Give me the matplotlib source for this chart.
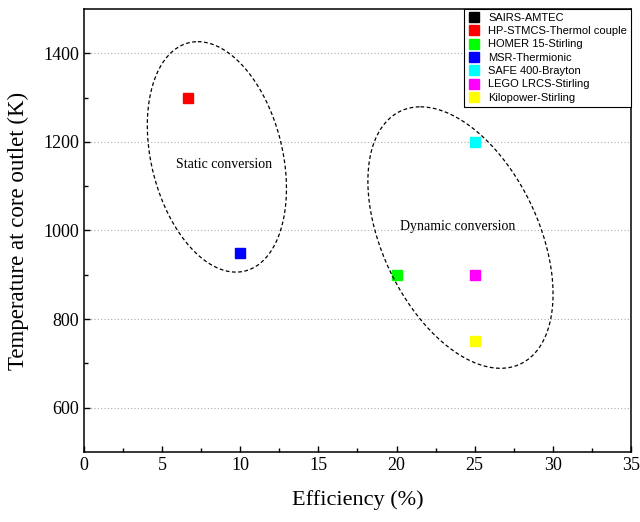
import numpy as np
import matplotlib.pyplot as plt

# Дані: ККД (%) та температура на виході з активної зони (K)
systems = ['SAIRS-AMTEC', 'HP-STMCS-Thermol couple', 'HOMER 15-Stirling',
           'MSR-Thermionic', 'SAFE 400-Brayton', 'LEGO LRCS-Stirling',
           'Kilopower-Stirling']
efficiency = [np.nan, 6.65, 20, 10, 25, 25, 25]
temperature = [np.nan, 1300, 900, 950, 1200, 900, 750]
colors = ['#000000', '#ff0000', '#00ff00', '#0000ff', '#00ffff', '#ff00ff', '#ffff00']

# Еліпси-групи: центр, спряжений вектор (вгору) та горизонтальна піввісь
static_center = (8.51, 1166)
static_u = (-1.22, 260)
static_v = 4.28
dynamic_center = (24.09, 984)
dynamic_u = (-2.56, 295)
dynamic_v = 5.34

serif = 'Liberation Serif'
sans = 'Liberation Sans'

fig = plt.figure(figsize=(6.4, 5.22), dpi=100)
ax = fig.add_axes([0.131, 0.134, 0.855, 0.849])

for name, x, y, c in zip(systems, efficiency, temperature, colors):
    ax.plot([x], [y], 's', color=c, markersize=7, linestyle='none', label=name)


def draw_ellipse(center, u, v):
    t = np.linspace(0, 2 * np.pi, 300)
    xs = center[0] + u[0] * np.cos(t) + v * np.sin(t)
    ys = center[1] + u[1] * np.cos(t)
    ax.plot(xs, ys, '--', color='black', linewidth=0.9, dashes=(3, 2))


draw_ellipse(static_center, static_u, static_v)
draw_ellipse(dynamic_center, dynamic_u, dynamic_v)

ax.text(9.0, 1148, 'Static conversion', family=serif, fontsize=10,
        ha='center', va='center')
ax.text(23.9, 1010, 'Dynamic conversion', family=serif, fontsize=10,
        ha='center', va='center')

ax.set_xlim(0, 35)
ax.set_ylim(500, 1500)
ax.set_xticks(np.arange(0, 36, 5))
ax.set_yticks([600, 800, 1000, 1200, 1400])
ax.set_xticks(np.arange(2.5, 35, 5), minor=True)
ax.set_yticks([700, 900, 1100, 1300], minor=True)
ax.tick_params(which='both', direction='in', width=1, top=False, right=False)
ax.tick_params(which='major', length=4.5)
ax.tick_params(which='minor', length=3)
for lbl in ax.get_xticklabels() + ax.get_yticklabels():
    lbl.set_family(serif)
    lbl.set_fontsize(13)
for sp in ax.spines.values():
    sp.set_linewidth(1.1)

ax.yaxis.grid(True, linestyle=(0, (1, 2)), color='#aaaaaa', linewidth=0.8)
ax.set_axisbelow(True)

ax.set_xlabel('Efficiency (%)', family=serif, fontsize=16, labelpad=12)
ax.set_ylabel('Temperature at core outlet (K)', family=serif, fontsize=16.5, labelpad=10)

leg = ax.legend(loc='upper right', borderaxespad=0, prop={'family': sans, 'size': 8},
                handlelength=1, handletextpad=0.8, labelspacing=0.3,
                borderpad=0.35, fancybox=False, framealpha=1, edgecolor='black',
                markerscale=1.0)
leg.get_frame().set_linewidth(0.8)

fig.savefig('out.png', dpi=100)
